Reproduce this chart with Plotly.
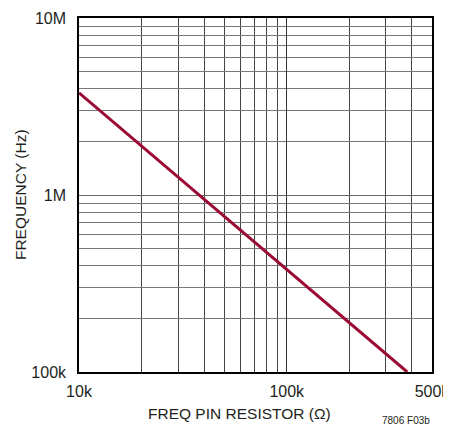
"""Frequency vs FREQ pin resistor, log-log chart."""
import plotly.graph_objects as go

# Data
resistor_ohms = [10e3, 20e3, 50e3, 100e3, 200e3, 380e3]
frequency_hz = [3.78e6, 1.89e6, 0.756e6, 0.378e6, 0.189e6, 0.1e6]

# Axis ticks
x_tick_vals = [10e3, 100e3, 500e3]
x_tick_text = ['10k', '100k', '500k']
y_tick_vals = [1e5, 1e6, 1e7]
y_tick_text = ['100k', '1M', '10M']
x_minor_vals = [m * 1e4 for m in range(2, 10)] + [m * 1e5 for m in range(2, 5)]
y_minor_vals = [m * 1e5 for m in range(2, 10)] + [m * 1e6 for m in range(2, 10)]

FONT = 'Liberation Sans, Arial, sans-serif'
TEXT = '#231F20'

fig = go.Figure()
fig.add_trace(go.Scatter(
    x=resistor_ohms,
    y=frequency_hz,
    mode='lines',
    line=dict(color='#9B0A32', width=3),
    showlegend=False,
))

# page body adds ~8px offset, so size/margins are trimmed to compensate
fig.update_layout(
    width=443,
    height=421,
    margin=dict(l=71, r=19, t=10, b=57),
    plot_bgcolor='white',
    paper_bgcolor='white',
    font=dict(family=FONT, color=TEXT, size=16),
    xaxis=dict(
        type='log',
        range=[4, 5.69897],
        tickmode='array',
        tickvals=x_tick_vals,
        ticktext=x_tick_text,
        ticks='',
        showgrid=True,
        gridcolor='#333333',
        gridwidth=1,
        minor=dict(tickmode='array', tickvals=x_minor_vals, showgrid=True,
                   gridcolor='#444444', gridwidth=1, ticks=''),
        showline=True,
        mirror=True,
        linecolor='black',
        linewidth=1.5,
        tickfont=dict(size=16),
        ticklabelstandoff=4,
        ticklabeloverflow='allow',
        automargin=False,
        zeroline=False,
    ),
    yaxis=dict(
        type='log',
        range=[5, 7],
        tickmode='array',
        tickvals=y_tick_vals,
        ticktext=y_tick_text,
        ticks='',
        showgrid=True,
        gridcolor='#666666',
        gridwidth=1,
        minor=dict(tickmode='array', tickvals=y_minor_vals, showgrid=True,
                   gridcolor='#777777', gridwidth=1, ticks=''),
        showline=True,
        mirror=True,
        linecolor='black',
        linewidth=1.5,
        tickfont=dict(size=16),
        ticklabelstandoff=8,
        automargin=False,
        zeroline=False,
    ),
    annotations=[
        dict(text='FREQ PIN RESISTOR (Ω)', xref='paper', yref='paper',
             x=0.456, y=-0.116, xanchor='center', yanchor='middle',
             showarrow=False, font=dict(size=15.5)),
        dict(text='FREQUENCY (Hz)', xref='paper', yref='paper',
             x=-0.167, y=0.5, xanchor='center', yanchor='middle',
             textangle=-90, showarrow=False, font=dict(size=15.5)),
        dict(text='7806 F03b', xref='paper', yref='paper',
             x=1.0, y=-0.136, xanchor='right', yanchor='middle',
             showarrow=False, font=dict(size=10)),
    ],
)

fig.write_html('out.html')
